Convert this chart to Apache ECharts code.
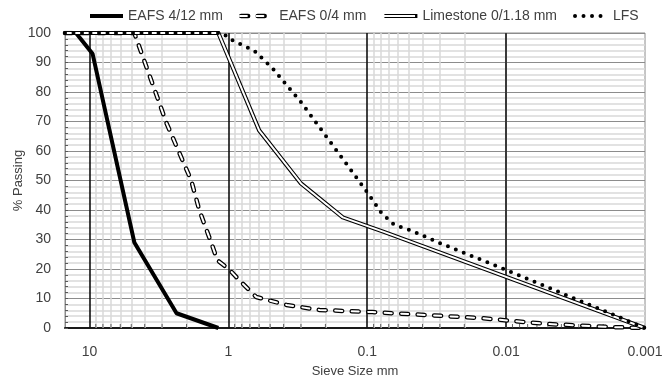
<!DOCTYPE html>
<html><head><meta charset="utf-8">
<script src="https://cdn.jsdelivr.net/npm/echarts@6/dist/echarts.min.js"></script>
<style>html,body{margin:0;padding:0;background:#fff}#c{width:664px;height:380px}</style>
</head><body><div id="c"></div>
<script>
// ---- data ----
const seriesNames = ['EAFS 4/12 mm', 'EAFS 0/4 mm', 'Limestone 0/1.18 mm', 'LFS'];

const eafs412Size = [15, 12.5, 9.5, 4.75, 2.36, 1.18];
const eafs412Pass = [100, 100, 93, 29, 5, 0];

const eafs04Size = [15, 4.75, 2.79, 1.85, 1.62, 1.33, 1.2, 0.98, 0.81, 0.63, 0.38, 0.22, 0.092, 0.0156, 0.0052, 0.0017, 0.001];
const eafs04Pass = [100, 100, 69.5, 50, 40, 29, 23, 19.7, 15.6, 10.5, 7.8, 6.1, 5.4, 3.4, 1.4, 0.3, 0];

const limestoneSize = [15, 1.18, 0.6, 0.3, 0.15, 0.075, 0.001];
const limestonePass = [100, 100, 67, 49, 37.5, 32.5, 0];

const lfsSize = [15, 1.1, 0.98, 0.8, 0.65, 0.48, 0.3, 0.1, 0.079, 0.064, 0.048, 0.029, 0.01, 0.0027, 0.001];
const lfsPass = [100, 100, 98, 96, 94, 88, 76.6, 46, 39, 35, 33, 28.5, 19.7, 8.5, 0];

const xTickLabels = ['10', '1', '0.1', '0.01', '0.001'];
const majorSizes = [10, 1, 0.1, 0.01];
const minorSizes = [9, 8, 7, 6, 5, 4, 3, 2,
  0.9, 0.8, 0.7, 0.6, 0.5, 0.4, 0.3, 0.2,
  0.09, 0.08, 0.07, 0.06, 0.05, 0.04, 0.03, 0.02,
  0.009, 0.008, 0.007, 0.006, 0.005, 0.004, 0.003, 0.002];
const xMin = 0.001, xMax = 15;
const yMin = 0, yMax = 100, yStep = 10;

// ---- helpers ----
function pairs(s, p) { return s.map((v, i) => [v, p[i]]); }
const INNER = ' (inner)';
const FONT = '"Liberation Sans", Arial, sans-serif';
const TXT = '#404040';

const dashArr = [7, 9.5];

const legendCommon = {
  left: 88, top: 9, padding: 0, itemGap: 16, itemWidth: 33, itemHeight: 14,
  itemStyle: { opacity: 0 },
  lineStyle: { width: 'inherit' },
  formatter: n => n.replace(INNER, ''),
  selectedMode: false
};

const option = {
  animation: false,
  backgroundColor: '#ffffff',
  textStyle: { fontFamily: FONT },
  grid: { left: 65, right: 19, top: 33, bottom: 52, outerBoundsMode: 'none', containLabel: false,
          show: true, borderColor: '#8c8c8c', borderWidth: 1, backgroundColor: '#ffffff' },
  legend: [
    Object.assign({}, legendCommon, {
      data: seriesNames,
      textStyle: { fontFamily: FONT, fontSize: 14, color: TXT }, z: 4
    }),
    Object.assign({}, legendCommon, {
      data: [
        { name: seriesNames[0], lineStyle: { opacity: 0 } },
        seriesNames[1] + INNER,
        seriesNames[2] + INNER,
        { name: seriesNames[3], lineStyle: { opacity: 0 } }
      ],
      textStyle: { fontFamily: FONT, fontSize: 14, color: 'rgba(0,0,0,0)' }, z: 5
    })
  ],
  xAxis: {
    type: 'log', logBase: 10, min: xMin, max: xMax, inverse: true,
    name: 'Sieve Size mm', nameLocation: 'middle', nameGap: 37, nameMoveOverlap: false,
    nameTextStyle: { fontFamily: FONT, fontSize: 13, color: TXT },
    axisLine: { show: true, onZero: false, lineStyle: { color: '#1a1a1a', width: 2 } },
    axisTick: { show: false },
    splitLine: { show: false },
    minorTick: { show: false },
    axisLabel: {
      margin: 17, fontFamily: FONT, fontSize: 14, color: TXT,
      formatter: v => {
        for (const l of xTickLabels) { if (Math.abs(Number(l) - v) < Math.abs(v) * 1e-6) return l; }
        return '';
      }
    }
  },
  yAxis: {
    type: 'value', min: yMin, max: yMax, interval: yStep,
    name: '% Passing', nameLocation: 'middle', nameGap: 40, nameMoveOverlap: false,
    nameTextStyle: { fontFamily: FONT, fontSize: 13, color: TXT },
    axisLine: { show: true, lineStyle: { color: '#8c8c8c', width: 1 } },
    axisTick: { show: true, inside: true, length: 3, lineStyle: { color: '#595959' } },
    minorTick: { show: true, splitNumber: 5, length: 3, lineStyle: { color: '#595959' } },
    splitLine: { show: true, lineStyle: { color: '#8c8c8c', width: 1 } },
    minorSplitLine: { show: true, lineStyle: { color: '#d9d9d9', width: 1.5 } },
    axisLabel: { margin: 14, fontFamily: FONT, fontSize: 14, color: TXT }
  },
  series: [
    {
      name: 'gridMinor', type: 'line', data: [], z: 1, silent: true,
      markLine: {
        silent: true, symbol: ['none', 'none'], z: 1, animation: false,
        label: { show: false },
        lineStyle: { color: '#d9d9d9', width: 1.5, type: 'solid' },
        data: minorSizes.map(v => ({ xAxis: v }))
      }
    },
    {
      name: 'gridMajor', type: 'line', data: [], z: 2, silent: true,
      markLine: {
        silent: true, symbol: ['none', 'none'], z: 2, animation: false,
        label: { show: false },
        lineStyle: { color: '#111111', width: 1.6, type: 'solid' },
        data: majorSizes.map(v => ({ xAxis: v }))
      }
    },
    {
      name: 'minorTicks', type: 'scatter', z: 3, silent: true,
      data: minorSizes.map(v => [v, 0]),
      symbol: 'rect', symbolSize: [1, 4], symbolOffset: [0, -2],
      itemStyle: { color: '#404040' }
    },
    {
      name: seriesNames[0], type: 'line', z: 10, symbol: 'none',
      data: pairs(eafs412Size, eafs412Pass),
      lineStyle: { color: '#000000', width: 4, cap: 'butt', join: 'round' },
      itemStyle: { color: '#000000' }
    },
    {
      name: seriesNames[1], type: 'line', z: 11, symbol: 'none',
      data: pairs(eafs04Size, eafs04Pass),
      lineStyle: { color: '#000000', width: 4.5, type: dashArr, cap: 'round', join: 'round' },
      itemStyle: { color: '#000000' }
    },
    {
      name: seriesNames[1] + INNER, type: 'line', z: 12, symbol: 'none',
      data: pairs(eafs04Size, eafs04Pass),
      lineStyle: { color: '#ffffff', width: 2, type: dashArr, cap: 'round', join: 'round' },
      itemStyle: { color: '#ffffff' }
    },
    {
      name: seriesNames[2], type: 'line', z: 13, symbol: 'none',
      data: pairs(limestoneSize, limestonePass),
      lineStyle: { color: '#000000', width: 4.2, cap: 'butt', join: 'round' },
      itemStyle: { color: '#000000' }
    },
    {
      name: seriesNames[2] + INNER, type: 'line', z: 14, symbol: 'none',
      data: pairs(limestoneSize, limestonePass),
      lineStyle: { color: '#ffffff', width: 2, cap: 'butt', join: 'round' },
      itemStyle: { color: '#ffffff' }
    },
    {
      name: seriesNames[3], type: 'line', z: 15, symbol: 'none',
      data: pairs(lfsSize, lfsPass),
      lineStyle: { color: '#000000', width: 4, type: [0, 8.5], cap: 'round', join: 'round' },
      itemStyle: { color: '#000000' }
    }
  ]
};

const chart = echarts.init(document.getElementById('c'), null, { renderer: 'canvas' });
chart.setOption(option);
</script>
</body></html>
